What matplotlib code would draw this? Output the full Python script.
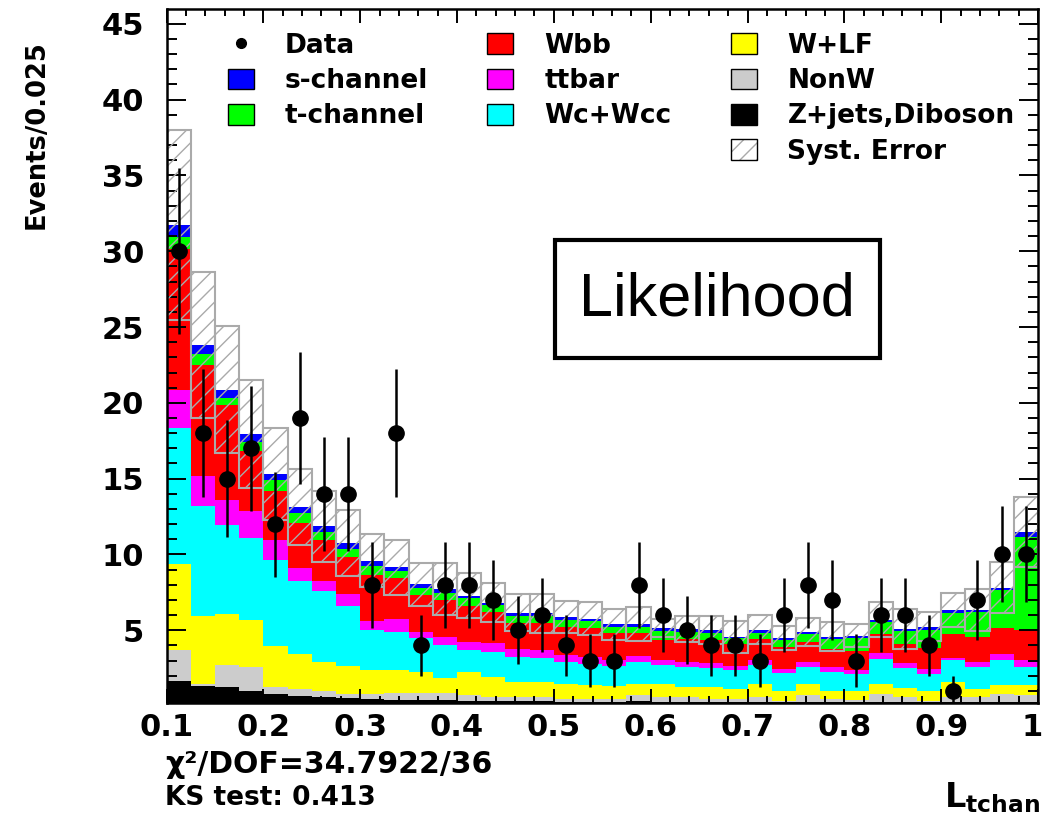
import numpy as np
import matplotlib
matplotlib.use('Agg')
import matplotlib.pyplot as plt
from matplotlib.patches import Patch, Rectangle
from matplotlib.lines import Line2D
from matplotlib.legend_handler import HandlerTuple
from matplotlib.ticker import MultipleLocator, FuncFormatter
from matplotlib.transforms import ScaledTranslation

# 36 bins of 0.025 in the t-channel likelihood
edges = np.round(0.1 + 0.025 * np.arange(37), 4)
centers = 0.5 * (edges[:-1] + edges[1:])
xticks = [0.1, 0.2, 0.3, 0.4, 0.5, 0.6, 0.7, 0.8, 0.9, 1.0]

data = [30, 18, 15, 17, 12, 19, 14, 14, 8, 18, 4, 8, 8, 7, 5, 6, 4, 3,
        3, 8, 6, 5, 4, 4, 3, 6, 8, 7, 3, 6, 6, 4, 1, 7, 10, 10]

zjets = [1.65, 1.30, 1.27, 1.02, 0.77, 0.65, 0.60, 0.52, 0.45, 0.42, 0.40, 0.38,
         0.32, 0.30, 0.30, 0.30, 0.28, 0.28, 0.28, 0.30, 0.28, 0.28, 0.28, 0.26,
         0.28, 0.26, 0.28, 0.26, 0.26, 0.28, 0.26, 0.26, 0.28, 0.26, 0.28, 0.28]
nonw = [2.03, 0.15, 1.45, 1.55, 0.50, 0.50, 0.42, 0.25, 0.32, 0.46, 0.44, 0.46,
        0.43, 0.32, 0.32, 0.32, 0.20, 0.20, 0.20, 0.43, 0.32, 0.32, 0.20, 0.20,
        0.32, 0.10, 0.43, 0.20, 0.15, 0.50, 0.36, 0.10, 0.30, 0.32, 0.50, 0.43]
wlf = [5.68, 4.47, 3.33, 3.13, 2.69, 2.29, 1.87, 1.87, 1.62, 1.49, 1.43, 0.99,
       1.47, 1.32, 0.99, 0.99, 0.95, 0.89, 0.82, 0.72, 0.83, 0.66, 0.78, 0.67,
       0.88, 0.66, 0.72, 0.56, 0.58, 0.70, 0.57, 0.66, 1.00, 0.55, 0.59, 0.66]
wcc = [8.95, 7.28, 5.92, 5.40, 5.70, 4.80, 4.73, 3.98, 2.61, 2.53, 2.19, 2.19,
       1.49, 1.64, 1.64, 1.53, 1.47, 1.42, 1.32, 1.47, 1.25, 1.32, 1.27, 1.25,
       1.20, 1.14, 1.15, 1.20, 1.10, 1.65, 1.32, 1.10, 1.45, 1.43, 1.65, 1.21]
ttbar = [2.56, 2.00, 1.62, 1.74, 1.31, 0.87, 0.62, 0.80, 0.63, 0.82, 0.44, 0.55,
         0.49, 0.60, 0.49, 0.55, 0.44, 0.44, 0.39, 0.38, 0.38, 0.32, 0.31, 0.28,
         0.33, 0.28, 0.32, 0.34, 0.30, 0.37, 0.31, 0.33, 0.15, 0.33, 0.44, 0.44]
wbb = [9.26, 7.30, 6.26, 3.98, 3.24, 2.99, 2.73, 2.44, 3.03, 2.70, 2.42, 2.43,
       2.37, 2.04, 1.76, 1.76, 1.87, 1.94, 1.81, 1.54, 1.32, 1.54, 1.54, 1.43,
       1.43, 1.43, 1.32, 1.20, 1.27, 1.28, 1.28, 1.41, 1.60, 1.65, 1.71, 1.98]
tchan = [0.79, 0.74, 0.50, 0.62, 0.67, 0.62, 0.50, 0.49, 0.57, 0.51, 0.44, 0.48,
         0.55, 0.44, 0.44, 0.49, 0.49, 0.44, 0.39, 0.39, 0.55, 0.44, 0.46, 0.40,
         0.38, 0.49, 0.51, 0.66, 0.80, 0.77, 0.83, 1.16, 1.35, 1.64, 2.51, 6.15]
schan = [0.82, 0.59, 0.52, 0.50, 0.45, 0.42, 0.38, 0.38, 0.37, 0.22, 0.27, 0.22,
         0.16, 0.16, 0.22, 0.17, 0.17, 0.15, 0.18, 0.18, 0.22, 0.18, 0.15, 0.09,
         0.22, 0.13, 0.15, 0.16, 0.18, 0.15, 0.16, 0.22, 0.20, 0.16, 0.13, 0.33]
syst = [6.26, 4.81, 4.21, 3.56, 3.03, 2.49, 2.36, 2.17, 1.75, 1.80, 1.42, 1.71,
        1.49, 1.27, 1.21, 1.26, 1.06, 1.10, 1.03, 1.10, 0.60, 0.86, 0.93, 1.05,
        0.94, 0.81, 0.95, 0.94, 0.77, 1.16, 1.32, 0.94, 1.10, 1.38, 1.69, 2.31]

# stacking order, bottom to top
samples = [
    ('Z+jets,Diboson', zjets, '#000000'),
    ('NonW', nonw, '#cccccc'),
    ('W+LF', wlf, '#ffff00'),
    ('Wc+Wcc', wcc, '#00ffff'),
    ('ttbar', ttbar, '#ff00ff'),
    ('Wbb', wbb, '#ff0000'),
    ('t-channel', tchan, '#00ff00'),
    ('s-channel', schan, '#0000ff'),
]
colors = {name: c for name, _, c in samples}

plt.rcParams['font.family'] = 'DejaVu Sans'
plt.rcParams['font.weight'] = 'bold'
plt.rcParams['hatch.linewidth'] = 1.0

fig = plt.figure(figsize=(10.44, 8.17), dpi=100)
ax = fig.add_axes([166.5 / 1044, 1 - 703 / 817, (1038 - 166.5) / 1044, (703 - 9) / 817])

tops = np.cumsum([np.array(v) for _, v, _ in samples], axis=0)
# draw the cumulative sums from the top down, THStack style
for (name, _, col), top in reversed(list(zip(samples, tops))):
    ax.stairs(top, edges, baseline=0, fill=True, color=col, lw=0, zorder=1)

total = tops[-1]
syst = np.array(syst)
ax.bar(centers, 2 * syst, bottom=total - syst, width=0.025, fill=False,
       hatch='//', edgecolor='#aaaaaa', linewidth=1.5, zorder=2)

data = np.array(data, dtype=float)
ax.errorbar(centers, data, yerr=np.sqrt(data), fmt='o', color='black', ms=11,
            elinewidth=1.8, capsize=0, zorder=4)

ax.set_xlim(0.1, 1.0)
ax.set_ylim(0.2, 45.98)
ax.set_xticks(xticks)
ax.xaxis.set_minor_locator(MultipleLocator(0.02))
ax.yaxis.set_major_locator(MultipleLocator(5))
ax.yaxis.set_minor_locator(MultipleLocator(1))
ax.xaxis.set_major_formatter(FuncFormatter(lambda v, p: f'{v:g}'))

ax.tick_params(which='both', direction='in', top=True, right=True, width=1.4,
               labelsize=22)
ax.tick_params(axis='x', which='major', length=10, pad=7)
ax.tick_params(axis='x', which='minor', length=5)
ax.tick_params(axis='y', which='major', length=14, pad=16)
ax.tick_params(axis='y', which='minor', length=7)
for sp in ax.spines.values():
    sp.set_linewidth(1.8)

# keep the "1" at the right end inside the canvas
last = ax.xaxis.get_major_ticks()[-1].label1
last.set_transform(last.get_transform() + ScaledTranslation(-6 / 100, 0, fig.dpi_scale_trans))

ax.set_ylabel('Events/0.025', loc='top', fontsize=18.5, fontweight='bold')
ax.yaxis.set_label_coords(-0.1336, 0.955)
ax.set_xlabel(r'$\mathbf{L}_{\mathbf{tchan}}$', loc='right', fontsize=24)
ax.xaxis.set_label_coords(1.002, -0.111)

# likelihood tag
ax.add_patch(Rectangle((0.446, 0.497), 0.373, 0.170, transform=ax.transAxes,
                       facecolor='white', edgecolor='black', lw=3, zorder=5))
ax.text(0.632, 0.581, 'Likelihood', transform=ax.transAxes, ha='center',
        va='center', fontsize=44, fontweight='normal', family='Liberation Sans',
        zorder=6)

# legend, three columns filled top-down
def box(c):
    return Patch(facecolor=c, edgecolor='black', linewidth=1)

blank = Patch(visible=False)
syst_handle = (Patch(facecolor='white', edgecolor='#aaaaaa', hatch='//', linewidth=0),
               Patch(fill=False, edgecolor='black', linewidth=1))
handles = [Line2D([], [], marker='o', ls='none', color='black', ms=7),
           box(colors['s-channel']), box(colors['t-channel']), blank,
           box(colors['Wbb']), box(colors['ttbar']), box(colors['Wc+Wcc']), blank,
           box(colors['W+LF']), box(colors['NonW']), box(colors['Z+jets,Diboson']),
           syst_handle]
labels = ['Data', 's-channel', 't-channel', '',
          'Wbb', 'ttbar', 'Wc+Wcc', '',
          'W+LF', 'NonW', 'Z+jets,Diboson', 'Syst. Error']
ax.legend(handles, labels, ncol=3, loc='upper left', frameon=False,
          bbox_to_anchor=(228 / 1044, 1 - 33 / 817), bbox_transform=fig.transFigure,
          fontsize=19, handlelength=0.98, handleheight=0.83, handletextpad=1.17,
          columnspacing=2.25, labelspacing=0.35, borderpad=0, borderaxespad=0,
          handler_map={tuple: HandlerTuple(ndivide=1, pad=0)})

fig.text(165 / 1044, 1 - 773 / 817, '\u03c7\u00b2/DOF=34.7922/36', fontsize=21.5,
         va='baseline', ha='left')
fig.text(165 / 1044, 1 - 805 / 817, 'KS test: 0.413', fontsize=19,
         va='baseline', ha='left')

fig.savefig('out.png', dpi=100)
